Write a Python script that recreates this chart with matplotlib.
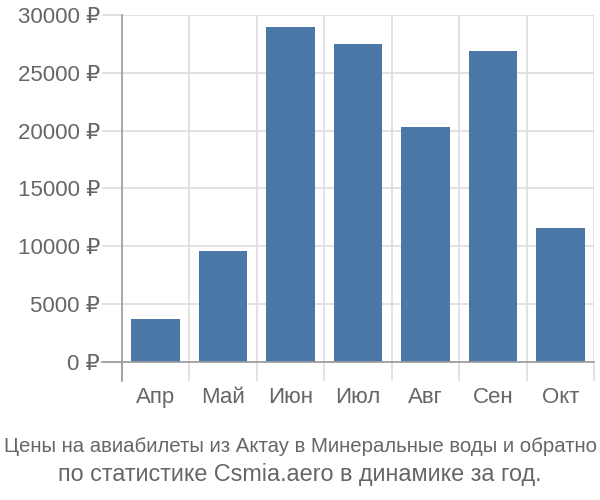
import matplotlib
matplotlib.use("Agg")
import matplotlib.pyplot as plt
import numpy as np

# monthly prices, rub
months = ['Апр', 'Май', 'Июн', 'Июл', 'Авг', 'Сен', 'Окт']
prices = [3700, 9600, 29000, 27500, 20300, 26900, 11550]
yticks = [0, 5000, 10000, 15000, 20000, 25000, 30000]
title_1 = 'Цены на авиабилеты из Актау в Минеральные воды и обратно'
title_2 = 'по статистике Csmia.aero в динамике за год.'

plt.rcParams['font.family'] = ['Liberation Sans', 'DejaVu Sans']

bar_color = '#4c78a8'
text_color = '#666666'
grid_color = '#dddddd'
axis_color = '#999999'

fig = plt.figure(figsize=(6, 5), dpi=100)
ax = fig.add_axes([122 / 600, 1 - 362 / 500, 472 / 600, 347 / 500])

x = np.arange(len(months))
ax.bar(x, prices, width=0.72, color=bar_color, zorder=3)

ax.set_xlim(-0.5, len(months) - 0.5)
ax.set_ylim(0, 30000)

# horizontal grid + y ticks
ax.set_yticks(yticks)
ax.set_yticklabels([f'{v} ₽' for v in yticks])
ax.yaxis.grid(True, color=grid_color, linewidth=1.2, zorder=0)
ax.tick_params(axis='y', length=14.4, width=1.2, color=grid_color,
               labelsize=16, labelcolor=text_color, pad=1.5)

# category labels at centers, boundary ticks as minor
ax.set_xticks(x)
ax.set_xticklabels(months)
ax.set_xticks(np.arange(len(months) + 1) - 0.5, minor=True)
ax.tick_params(axis='x', which='major', length=0, labelsize=16,
               labelcolor=text_color, pad=18)
ax.tick_params(axis='x', which='minor', length=14, width=1.2,
               color=grid_color)
for b in np.arange(1, len(months) + 1) - 0.5:
    ax.axvline(b, color=grid_color, linewidth=1.2, zorder=0)

for s in ['top', 'right']:
    ax.spines[s].set_visible(False)
ax.spines['left'].set_color(axis_color)
ax.spines['left'].set_linewidth(1.2)
ax.spines['bottom'].set_color(axis_color)
ax.spines['bottom'].set_linewidth(1.2)
ax.spines['bottom'].set_zorder(4)

# darker left boundary tick and 0 tick
ax.plot([-0.5, -0.5], [0, -1650], color=axis_color, linewidth=1.2,
        clip_on=False, zorder=4)
ax.plot([-0.5 - 20 / 67.4, -0.5], [0, 0], color=axis_color, linewidth=1.2,
        clip_on=False, zorder=4)

fig.text(0.5, 1 - 446 / 500, title_1, ha='center', va='center',
         fontsize=14.7, color=text_color)
fig.text(0.5, 1 - 474 / 500, title_2, ha='center', va='center',
         fontsize=16.8, color=text_color)

fig.savefig('out.png', dpi=100)
